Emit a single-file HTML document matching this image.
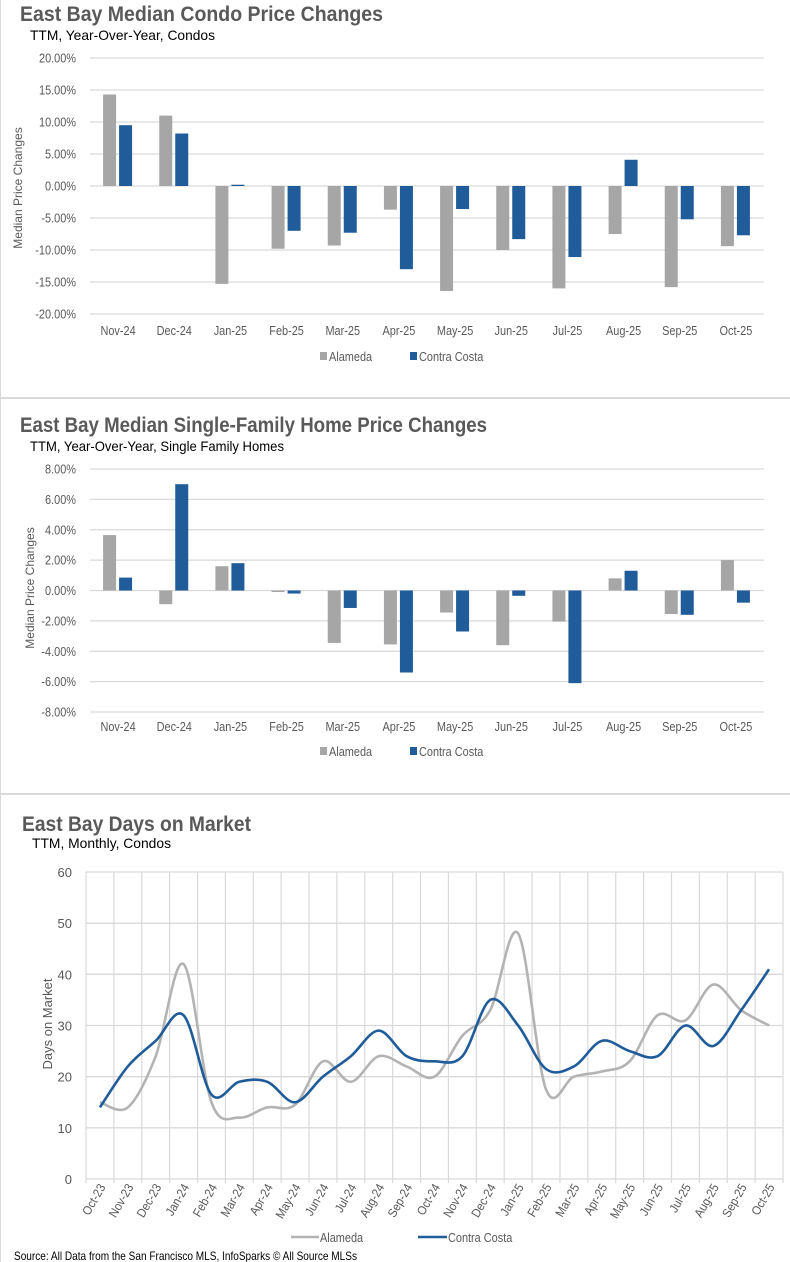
<!DOCTYPE html>
<html><head><meta charset="utf-8"><style>
body{margin:0;background:#fff;}
svg{display:block;font-family:"Liberation Sans",sans-serif;}
</style></head><body>
<svg id="root" width="790" height="1262" viewBox="0 0 790 1262">
<rect x="0" y="0" width="790" height="1262" fill="#fff"/>
<line x1="0.5" y1="0" x2="0.5" y2="1262" stroke="#d9d9d9"/>
<line x1="0" y1="398" x2="790" y2="398" stroke="#d9d9d9" stroke-width="2"/>
<line x1="0" y1="794" x2="790" y2="794" stroke="#d9d9d9" stroke-width="2"/>
<g>
<text x="20" y="21" font-size="21" font-weight="bold" fill="#595959" textLength="363" lengthAdjust="spacingAndGlyphs">East Bay Median Condo Price Changes</text>
<text x="30" y="40" font-size="14" fill="#000" textLength="185" lengthAdjust="spacingAndGlyphs">TTM, Year-Over-Year, Condos</text>
<g id="c1"></g>
</g>
<g>
<text x="20" y="432" font-size="21" font-weight="bold" fill="#595959" textLength="467" lengthAdjust="spacingAndGlyphs">East Bay Median Single-Family Home Price Changes</text>
<text x="30" y="451" font-size="14" fill="#000" textLength="254" lengthAdjust="spacingAndGlyphs">TTM, Year-Over-Year, Single Family Homes</text>
<g id="c2"></g>
</g>
<g>
<text x="22" y="831" font-size="21" font-weight="bold" fill="#595959" textLength="229" lengthAdjust="spacingAndGlyphs">East Bay Days on Market</text>
<text x="32" y="848" font-size="14" fill="#000" textLength="139" lengthAdjust="spacingAndGlyphs">TTM, Monthly, Condos</text>
<g id="c3"></g>
</g>
<text x="14" y="1260" font-size="12" fill="#000" textLength="343" lengthAdjust="spacingAndGlyphs">Source: All Data from the San Francisco MLS, InfoSparks © All Source MLSs</text>
</svg>
<script>
const barCats = ["Nov-24","Dec-24","Jan-25","Feb-25","Mar-25","Apr-25","May-25","Jun-25","Jul-25","Aug-25","Sep-25","Oct-25"];
const condoAlameda = [14.3,11.0,-15.3,-9.8,-9.3,-3.7,-16.4,-10.0,-16.0,-7.5,-15.8,-9.4];
const condoContra = [9.5,8.2,0.2,-7.0,-7.3,-13.0,-3.6,-8.3,-11.1,4.1,-5.2,-7.7];
const condoTicks = [20,15,10,5,0,-5,-10,-15,-20];
const sfhAlameda = [3.65,-0.9,1.6,-0.1,-3.45,-3.55,-1.45,-3.6,-2.05,0.8,-1.55,2.0];
const sfhContra = [0.85,7.0,1.8,-0.2,-1.15,-5.4,-2.7,-0.35,-6.1,1.3,-1.6,-0.8];
const sfhTicks = [8,6,4,2,0,-2,-4,-6,-8];
const domCats = ["Oct-23","Nov-23","Dec-23","Jan-24","Feb-24","Mar-24","Apr-24","May-24","Jun-24","Jul-24","Aug-24","Sep-24","Oct-24","Nov-24","Dec-24","Jan-25","Feb-25","Mar-25","Apr-25","May-25","Jun-25","Jul-25","Aug-25","Sep-25","Oct-25"];
const domAlameda = [15,14,24,42,15,12,14,14.5,23,19,24,22,20,28,33,48,17.5,20,21,23,32,31,38,33,30];
const domContra = [14,22,27,32,16.5,19,19,15,20,24,29,24,23,24,35,30,21.5,22,27,25,24,30,26,33,41];
const domTicks = [0,10,20,30,40,50,60];

const NS="http://www.w3.org/2000/svg";
function mk(parent,tag,attrs,text){const e=document.createElementNS(NS,tag);for(const k in attrs)e.setAttribute(k,attrs[k]);if(text!==undefined)e.textContent=text;parent.appendChild(e);return e;}
function narrow(e,f){try{const w=e.getComputedTextLength();if(w>0){e.setAttribute('textLength',(w*(f||0.84)).toFixed(1));e.setAttribute('lengthAdjust','spacingAndGlyphs');}}catch(err){}return e;}
const GRAY="#a6a6a6", BLUE="#1f5c99", GRID="#d9d9d9", LBL="#595959";

function barChart(g,prefix,A,B,ticks,top,bottom,labY,legY,ylabY,ylabX){
  const x0=90,x1=764,max=ticks[0],min=ticks[ticks.length-1];
  const y=v=>top+(max-v)/(max-min)*(bottom-top);
  const cw=(x1-x0)/barCats.length;
  ticks.forEach(t=>{
    const l=mk(g,'line',{x1:x0,x2:x1,y1:y(t),y2:y(t),stroke:GRID,'stroke-width':1.3});
    
    
    const tx=mk(g,'text',{x:x0-14,y:y(t)+4.5,'font-size':13,'text-anchor':'end',fill:LBL},t.toFixed(2)+'%');
    
    
    narrow(tx);
  });
  const yl=mk(g,'text',{x:0,y:0,'font-size':12,'text-anchor':'middle',fill:LBL,transform:`translate(${ylabX},${ylabY}) rotate(-90)`},'Median Price Changes');
  
  
  barCats.forEach((c,i)=>{
    const cx=x0+cw*(i+0.5);
    const ra=mk(g,'rect',{x:cx-15,width:13,y:Math.min(y(0),y(A[i])),height:Math.abs(y(A[i])-y(0)),fill:GRAY});
    
    
    const rb=mk(g,'rect',{x:cx+1,width:13,y:Math.min(y(0),y(B[i])),height:Math.abs(y(B[i])-y(0)),fill:BLUE});
    
    
    const t=mk(g,'text',{x:cx,y:labY,'font-size':13,'text-anchor':'middle',fill:LBL},c);
    
    
    narrow(t);
  });
  const la=mk(g,'g',{});
  
  
  mk(la,'rect',{x:320,y:legY-9,width:7,height:8,fill:GRAY});
  narrow(mk(la,'text',{x:329,y:legY,'font-size':13,fill:LBL},'Alameda'));
  const lb=mk(g,'g',{});
  
  
  mk(lb,'rect',{x:410,y:legY-9,width:7,height:8,fill:BLUE});
  narrow(mk(lb,'text',{x:419,y:legY,'font-size':13,fill:LBL},'Contra Costa'));
}
barChart(document.getElementById('c1'),'condo',condoAlameda,condoContra,condoTicks,58,314,335,361,188,22);
barChart(document.getElementById('c2'),'sfh',sfhAlameda,sfhContra,sfhTicks,469,712,731,756,588,34);

function smoothPath(pts){
  let d=`M${pts[0][0]},${pts[0][1]}`;
  for(let i=0;i<pts.length-1;i++){
    const p0=pts[Math.max(0,i-1)],p1=pts[i],p2=pts[i+1],p3=pts[Math.min(pts.length-1,i+2)];
    const t=1/6;
    d+=` C${p1[0]+(p2[0]-p0[0])*t},${p1[1]+(p2[1]-p0[1])*t} ${p2[0]-(p3[0]-p1[0])*t},${p2[1]-(p3[1]-p1[1])*t} ${p2[0]},${p2[1]}`;
  }
  return d;
}
(function(){
  const g=document.getElementById('c3');
  const x0=86,x1=783,top=872,bottom=1179,max=60,min=0;
  const y=v=>top+(max-v)/(max-min)*(bottom-top);
  const cw=(x1-x0)/domCats.length;
  const x=i=>x0+cw*(i+0.5);
  for(let i=0;i<=domCats.length;i++){
    const l=mk(g,'line',{x1:x0+cw*i,x2:x0+cw*i,y1:top,y2:bottom+4,stroke:GRID,'stroke-width':1.2});
    
    
  }
  domTicks.forEach(t=>{
    const l=mk(g,'line',{x1:x0,x2:x1,y1:y(t),y2:y(t),stroke:GRID,'stroke-width':1.3});
    
    
    const tx=mk(g,'text',{x:x0-14,y:y(t)+5,'font-size':13,'text-anchor':'end',fill:LBL},String(t));
    
    
  });
  const yl=mk(g,'text',{x:0,y:0,'font-size':13,'text-anchor':'middle',fill:LBL,transform:'translate(52,1024) rotate(-90)'},'Days on Market');
  
  
  domCats.forEach((c,i)=>{
    const t=mk(g,'text',{x:0,y:0,'font-size':12.5,'text-anchor':'end',fill:LBL,transform:`translate(${x(i)+6},${bottom+8}) rotate(-60)`},c);
    
    
    narrow(t,0.9);
  });
  const pa=mk(g,'path',{d:smoothPath(domAlameda.map((v,i)=>[x(i),y(v)])),fill:'none',stroke:'#b3b3b3','stroke-width':2.6});
  
  
  const pb=mk(g,'path',{d:smoothPath(domContra.map((v,i)=>[x(i),y(v)])),fill:'none',stroke:BLUE,'stroke-width':2.6});
  
  
  const la=mk(g,'g',{});
  
  
  mk(la,'line',{x1:291,x2:319,y1:1237,y2:1237,stroke:'#b3b3b3','stroke-width':2.6});
  narrow(mk(la,'text',{x:320,y:1242,'font-size':13,fill:LBL},'Alameda'));
  const lb=mk(g,'g',{});
  
  
  mk(lb,'line',{x1:418,x2:447,y1:1237,y2:1237,stroke:BLUE,'stroke-width':2.6});
  narrow(mk(lb,'text',{x:448,y:1242,'font-size':13,fill:LBL},'Contra Costa'));
})();
</script>
</body></html>
